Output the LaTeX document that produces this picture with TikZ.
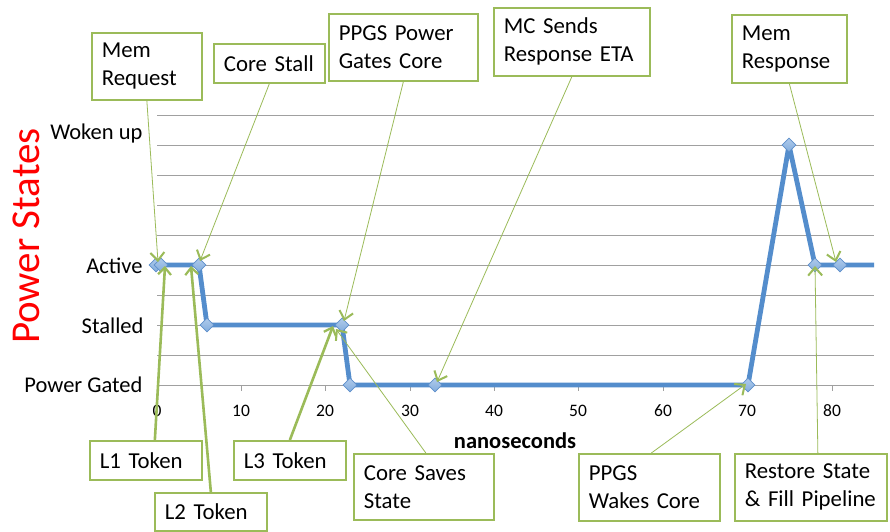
\documentclass[tikz,border=0pt]{standalone}
\usepackage{fontspec}
\setmainfont{Carlito}
\usetikzlibrary{arrows.meta,shapes.geometric}

\definecolor{callgreen}{RGB}{155,187,89}
\definecolor{seriesblue}{RGB}{84,141,204}
\definecolor{markfill}{RGB}{141,180,226}
\definecolor{markline}{RGB}{94,143,203}
\definecolor{gridgray}{RGB}{160,160,160}

\tikzset{
  callout/.style={draw=callgreen, line width=1.7pt, fill=white, align=left,
    inner xsep=10pt, inner ysep=0pt, anchor=north west,
    font=\fontsize{22.8}{28}\selectfont},
  leader/.style={draw=callgreen, line width=0.8pt,
    -{Straight Barb[length=8pt,width=14pt,line width=2pt]}},
  thickleader/.style={draw=callgreen, line width=2.6pt,
    -{Straight Barb[length=7pt,width=13pt,line width=2.2pt]}},
  gridline/.style={draw=gridgray, line width=0.8pt},
  series/.style={draw=seriesblue, line width=4.8pt, line join=round},
  datamark/.style={diamond, draw=markline, line width=0.6pt,
    top color=markfill!70!white, bottom color=markfill!80!seriesblue,
    minimum size=14pt, inner sep=0pt},
  catlabel/.style={anchor=base east, font=\fontsize{22.5}{22.5}\selectfont},
  ticklabel/.style={anchor=base, font=\fontsize{17.5}{17.5}\selectfont},
}

\begin{document}
\begin{tikzpicture}[x=1pt,y=-1pt]
\useasboundingbox[fill=white] (0,0) rectangle (890,531);

% horizontal grid lines (the lowest one is the time axis)
\foreach \gy in {115,145,...,385}
  \draw[gridline] (157,\gy) -- (874,\gy);
% tick marks on the time axis
\foreach \tx in {241,325,410,494,578,663,747,832}
  \draw[gridline] (\tx,385) -- (\tx,391);

% axis titles and category labels
\node[rotate=90, text=red, font=\fontsize{41}{41}\selectfont] (ytitle) at (26,236) {Power States};
\node[catlabel] (lwoken) at (146,139) {Woken up};
\node[catlabel] (lactive) at (146,273) {Active};
\node[catlabel] (lstalled) at (147,333) {Stalled};
\node[catlabel] (lgated) at (146,392) {Power Gated};
\foreach \tx/\tl in {157/0,241/10,325/20,410/30,494/40,578/50,663/60,747/70,832/80}
  \node[ticklabel] (tick\tl) at (\tx,416) {\tl};
\node[anchor=base, font=\bfseries\fontsize{22.5}{22.5}\selectfont] (xtitle) at (515,448) {nanoseconds};

% power-state trace
\coordinate (p1) at (156,265);
\coordinate (p2) at (161,265);
\coordinate (p3) at (199,265);
\coordinate (p4) at (207,325);
\coordinate (p5) at (342,325);
\coordinate (p6) at (350,385);
\coordinate (p7) at (435,385);
\coordinate (p8) at (748,385);
\coordinate (p9) at (789,145);
\coordinate (p10) at (815,265);
\coordinate (p11) at (840,265);
\coordinate (pend) at (874,265);
\draw[series] (p1) -- (p2) -- (p3) -- (p4) -- (p5) -- (p6) -- (p7) -- (p8)
  -- (p9) -- (p10) -- (p11) -- (pend);
\foreach \i in {1,...,11}
  \node[datamark] (d\i) at (p\i) {};

% callout boxes
\node[callout, text width=90pt, minimum height=67pt] (memreq) at (91,32) {Mem\\Request};
\node[callout, text width=91pt, minimum height=39pt] (stall) at (213,43) {Core Stall};
\node[callout, text width=129pt, minimum height=67pt] (ppgsgate) at (328,13) {\mbox{PPGS Power}\\\mbox{Gates Core}};
\node[callout, text width=136pt, minimum height=68pt] (mceta) at (493,7) {MC Sends\\\mbox{Response ETA}};
\node[callout, text width=95pt, minimum height=68pt] (memresp) at (731,14) {Mem\\Response};
\node[callout, text width=92pt, minimum height=39pt] (lone) at (89,440) {L1 Token};
\node[callout, text width=92pt, minimum height=38pt] (ltwo) at (154,492) {L2 Token};
\node[callout, text width=92pt, minimum height=39pt] (lthree) at (233,440) {L3 Token};
\node[callout, text width=120pt, minimum height=66pt] (saves) at (353,453) {Core Saves\\State};
\node[callout, text width=121pt, minimum height=67pt] (wakes) at (578,453) {PPGS\\\mbox{Wakes Core}};
\node[callout, text width=132pt, minimum height=67pt] (restore) at (734,453) {\mbox{Restore State}\\\mbox{\& Fill Pipeline}};

% arrow tips of the leaders
\coordinate (tmemreq) at (158,262);
\coordinate (tstall) at (200,261);
\coordinate (tppgsgate) at (344,321);
\coordinate (tmceta) at (437,382);
\coordinate (tmemresp) at (836,262);
\coordinate (tlone) at (165,266);
\coordinate (tltwo) at (191,266);
\coordinate (tlthree) at (333,326);
\coordinate (tsaves) at (336,329);
\coordinate (twakes) at (746,384);
\coordinate (trestore) at (815,266);

% leaders
\draw[leader] (memreq.south) -- (tmemreq);
\draw[leader] (stall.south) -- (tstall);
\draw[leader] (ppgsgate.south) -- (tppgsgate);
\draw[leader] (mceta.south) -- (tmceta);
\draw[leader] (memresp.south) -- (tmemresp);
\draw[leader] ([xshift=2pt]saves.north) -- (tsaves);
\draw[leader] ([xshift=2pt]wakes.north) -- (twakes);
\draw[leader] ([xshift=7pt]restore.north) -- (trestore);
\draw[thickleader] ([xshift=9pt]lone.north) -- (tlone);
\draw[thickleader] (ltwo.north) -- (tltwo);
\draw[thickleader] (lthree.north) -- (tlthree);
\end{tikzpicture}
\end{document}
